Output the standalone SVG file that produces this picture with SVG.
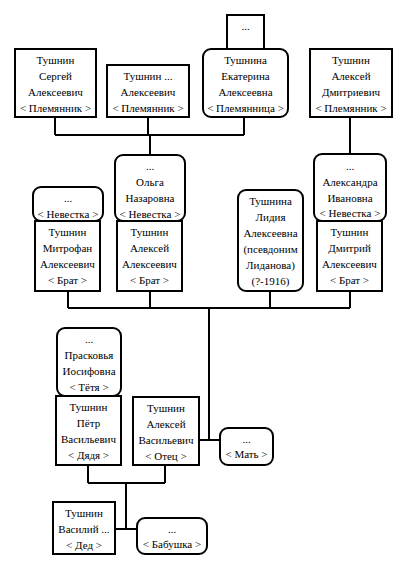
<svg xmlns="http://www.w3.org/2000/svg" width="406" height="569" viewBox="0 0 406 569">
<style>
.b{fill:#fff;stroke:#000;stroke-width:2}
.c{fill:none;stroke:#000;stroke-width:2}
text{font-family:'Liberation Serif','DejaVu Serif',serif;font-size:11px;fill:#000;text-anchor:middle}
</style>
<rect width="406" height="569" fill="#fff"/>
<g id="connectors">
<path class="c" d="M55,117V135M148,117V135M244,117V135M55,135H244M150,135V155"/>
<path class="c" d="M350,117V154"/>
<path class="c" d="M68,291V308M150,291V308M270,291V308M350,291V308M68,308H350M209,308V440M199,440H220"/>
<path class="c" d="M88,465V483M165,465V483M88,483H165M126,483V529M115,529H137"/>
</g>
<g font-family="Liberation Serif, DejaVu Serif, serif">
<g id="n_top">
<rect class="b" x="227" y="15" width="37" height="34"/>
<text x="245.5" y="30">...</text>
</g>
<g id="n_sergey">
<rect class="b" x="15" y="49" width="81" height="68"/>
<text x="55.5" y="64">Тушнин</text><text x="55.5" y="80">Сергей</text><text x="55.5" y="96">Алексеевич</text><text x="55.5" y="112">&lt; Племянник &gt;</text>
</g>
<g id="n_tushnin2">
<rect class="b" x="107" y="65" width="82" height="52"/>
<text x="148" y="80">Тушнин ...</text><text x="148" y="96">Алексеевич</text><text x="148" y="112">&lt; Племянник &gt;</text>
</g>
<g id="n_ekaterina">
<rect class="b" x="203" y="49" width="85" height="68" rx="8"/>
<text x="245.5" y="64">Тушнина</text><text x="245.5" y="80">Екатерина</text><text x="245.5" y="96">Алексеевна</text><text x="245.5" y="112">&lt; Племянница &gt;</text>
</g>
<g id="n_aleksey_d">
<rect class="b" x="310" y="49" width="82" height="68"/>
<text x="351" y="64">Тушнин</text><text x="351" y="80">Алексей</text><text x="351" y="96">Дмитриевич</text><text x="351" y="112">&lt; Племянник &gt;</text>
</g>
<g id="n_nevestka1">
<rect class="b" x="33" y="187" width="70" height="34" rx="8"/>
<text x="68" y="202">...</text><text x="68" y="218">&lt; Невестка &gt;</text>
</g>
<g id="n_mitrofan">
<rect class="b" x="35" y="221" width="65" height="70"/>
<text x="67.5" y="236">Тушнин</text><text x="67.5" y="252">Митрофан</text><text x="67.5" y="268">Алексеевич</text><text x="67.5" y="284">&lt; Брат &gt;</text>
</g>
<g id="n_olga">
<rect class="b" x="115" y="155" width="70" height="66" rx="8"/>
<text x="150" y="170">...</text><text x="150" y="186">Ольга</text><text x="150" y="202">Назаровна</text><text x="150" y="218">&lt; Невестка &gt;</text>
</g>
<g id="n_aleksey_a">
<rect class="b" x="117" y="221" width="65" height="70"/>
<text x="149.5" y="236">Тушнин</text><text x="149.5" y="252">Алексей</text><text x="149.5" y="268">Алексеевич</text><text x="149.5" y="284">&lt; Брат &gt;</text>
</g>
<g id="n_lidia">
<rect class="b" x="238" y="190" width="65" height="101" rx="8"/>
<text x="270.5" y="205">Тушнина</text><text x="270.5" y="221">Лидия</text><text x="270.5" y="237">Алексеевна</text><text x="270.5" y="253">(псевдоним</text><text x="270.5" y="269">Лиданова)</text><text x="270.5" y="285">(?-1916)</text>
</g>
<g id="n_aleksandra">
<rect class="b" x="314" y="154" width="72" height="67" rx="8"/>
<text x="350" y="170">...</text><text x="350" y="186">Александра</text><text x="350" y="202">Ивановна</text><text x="350" y="217">&lt; Невестка &gt;</text>
</g>
<g id="n_dmitry">
<rect class="b" x="317" y="221" width="65" height="70"/>
<text x="349.5" y="236">Тушнин</text><text x="349.5" y="252">Дмитрий</text><text x="349.5" y="268">Алексеевич</text><text x="349.5" y="284">&lt; Брат &gt;</text>
</g>
<g id="n_praskovya">
<rect class="b" x="57" y="328" width="64" height="68" rx="8"/>
<text x="89" y="343">...</text><text x="89" y="359">Прасковья</text><text x="89" y="375">Иосифовна</text><text x="89" y="391">&lt; Тётя &gt;</text>
</g>
<g id="n_petr">
<rect class="b" x="56" y="396" width="65" height="69"/>
<text x="88.5" y="411">Тушнин</text><text x="88.5" y="427">Пётр</text><text x="88.5" y="443">Васильевич</text><text x="88.5" y="459">&lt; Дядя &gt;</text>
</g>
<g id="n_otets">
<rect class="b" x="133" y="397" width="66" height="68"/>
<text x="166" y="412">Тушнин</text><text x="166" y="428">Алексей</text><text x="166" y="444">Васильевич</text><text x="166" y="460">&lt; Отец &gt;</text>
</g>
<g id="n_mat">
<rect class="b" x="220" y="428" width="53" height="37" rx="8"/>
<text x="246.5" y="443">...</text><text x="246.5" y="458">&lt; Мать &gt;</text>
</g>
<g id="n_ded">
<rect class="b" x="53" y="502" width="62" height="52"/>
<text x="84" y="517">Тушнин</text><text x="84" y="533">Василий ...</text><text x="84" y="549">&lt; Дед &gt;</text>
</g>
<g id="n_babushka">
<rect class="b" x="137" y="518" width="70" height="36" rx="8"/>
<text x="172" y="533">...</text><text x="172" y="548">&lt; Бабушка &gt;</text>
</g>
</g>
</svg>
